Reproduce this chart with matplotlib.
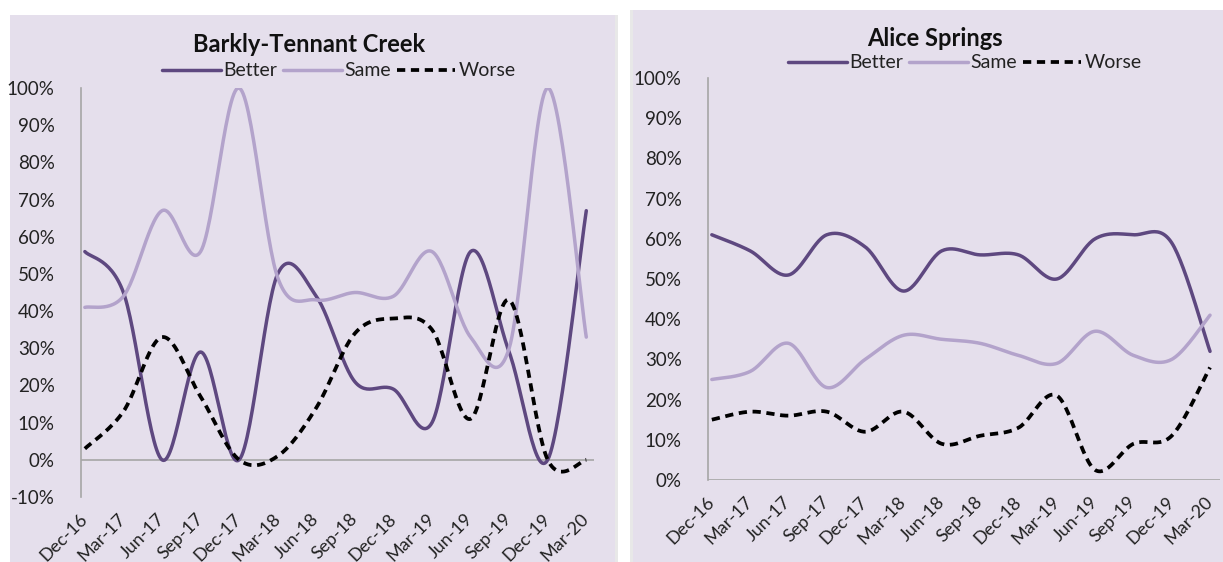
import numpy as np
import matplotlib
matplotlib.use("Agg")
import matplotlib.pyplot as plt
from matplotlib.patches import Rectangle
from matplotlib.ticker import FuncFormatter

plt.rcParams["font.family"] = ["Lato", "DejaVu Sans"]

dates = ["Dec-16", "Mar-17", "Jun-17", "Sep-17", "Dec-17", "Mar-18", "Jun-18",
         "Sep-18", "Dec-18", "Mar-19", "Jun-19", "Sep-19", "Dec-19", "Mar-20"]

# Barkly-Tennant Creek (%)
barkly_better = [56, 45, 0, 29, 0, 50, 44, 21, 19, 10, 56, 29, 0, 67]
barkly_same = [41, 44, 67, 56, 100, 49, 43, 45, 44, 56, 33, 30, 100, 33]
barkly_worse = [3, 13, 33, 17, 0, 1, 14, 34, 38, 35, 11, 43, 0, 0]

# Alice Springs (%)
alice_better = [61, 57, 51, 61, 58, 47, 57, 56, 56, 50, 60, 61, 59, 32]
alice_same = [25, 27, 34, 23, 30, 36, 35, 34, 31, 29, 37, 31, 30, 41]
alice_worse = [15, 17, 16, 17, 12, 17, 9, 11, 13, 21, 2.5, 9, 11, 28]

BG = "#E5DFEC"
C_BETTER = "#5E4880"
C_SAME = "#B3A3CB"
C_WORSE = "#000000"


def smooth(y, n=30, t=0.5):
    # Excel-style smoothed line (Catmull-Rom through each point)
    x = np.arange(len(y), dtype=float)
    y = np.asarray(y, dtype=float)
    xs, ys = [], []
    for i in range(len(y) - 1):
        p0 = np.array([x[max(i - 1, 0)], y[max(i - 1, 0)]])
        p1 = np.array([x[i], y[i]])
        p2 = np.array([x[i + 1], y[i + 1]])
        p3 = np.array([x[min(i + 2, len(y) - 1)], y[min(i + 2, len(y) - 1)]])
        c1 = p1 + (p2 - p0) * t / 3
        c2 = p2 - (p3 - p1) * t / 3
        s = np.linspace(0, 1, n)[:, None]
        b = ((1 - s) ** 3) * p1 + 3 * ((1 - s) ** 2) * s * c1 + 3 * (1 - s) * s ** 2 * c2 + s ** 3 * p2
        xs.append(b[:, 0])
        ys.append(b[:, 1])
    return np.concatenate(xs), np.concatenate(ys)


W, H = 1223, 562
fig = plt.figure(figsize=(W / 100, H / 100), dpi=100)

# panel backgrounds
fig.patches.append(Rectangle((10 / W, 0), 605 / W, (H - 15) / H, transform=fig.transFigure,
                             facecolor=BG, edgecolor="none", zorder=-10))
fig.patches.append(Rectangle((615 / W, 0), 3 / W, (H - 15) / H, transform=fig.transFigure,
                             facecolor="#E8E8E8", edgecolor="none", zorder=-10))
fig.patches.append(Rectangle((630 / W, 0), 3 / W, (H - 10) / H, transform=fig.transFigure,
                             facecolor="#E8E8E8", edgecolor="none", zorder=-10))
fig.patches.append(Rectangle((633 / W, 0), (W - 633) / W, (H - 10) / H, transform=fig.transFigure,
                             facecolor=BG, edgecolor="none", zorder=-10))


def panel(rect, better, same, worse, title, ymin, xlim, title_xy, leg_xy):
    ax = fig.add_axes(rect)
    ax.patch.set_alpha(0)
    handles = []
    for name, vals, col, ls in [("Better", better, C_BETTER, "-"),
                                ("Same", same, C_SAME, "-"),
                                ("Worse", worse, C_WORSE, "--")]:
        sx, sy = smooth(vals)
        line, = ax.plot(sx, np.array(sy) / 100, color=col, lw=2.5, ls=ls, label=name,
                        solid_capstyle="round")
        if ls == "--":
            line.set_linewidth(2.7)
            line.set_dashes((2.2, 1.5))
        handles.append(line)
    ax.set_xlim(*xlim)
    ax.set_ylim(ymin / 100, 1.0)
    ax.set_yticks(np.arange(ymin, 101, 10) / 100)
    ax.yaxis.set_major_formatter(FuncFormatter(lambda v, p: f"{v * 100:.0f}%"))
    ax.set_xticks(range(len(dates)))
    ax.set_xticklabels(dates, rotation=45, ha="right", va="center", rotation_mode="anchor")
    ax.tick_params(axis="y", length=0, pad=19, labelsize=13.5, colors="#222222")
    ax.tick_params(axis="x", length=0, pad=14, labelsize=13, colors="#222222")
    for s in ["top", "right", "bottom"]:
        ax.spines[s].set_visible(False)
    ax.spines["left"].set_color("#A6A6A6")
    ax.spines["left"].set_linewidth(1.2)
    ax.axhline(0, color="#A6A6A6", lw=1.2, zorder=0)
    fig.text(title_xy[0] / W, 1 - title_xy[1] / H, title, ha="center", va="center",
             fontsize=17, fontweight="bold", color="#111111")
    fig.legend(handles=handles, loc="center", bbox_to_anchor=(leg_xy[0] / W, 1 - leg_xy[1] / H),
               ncol=3, frameon=False, fontsize=14, handlelength=3.0, handletextpad=0.15,
               columnspacing=0.3, borderpad=0, labelcolor="#222222")
    return ax


panel([81 / W, 1 - 497 / H, (594 - 81) / W, (497 - 88) / H],
      barkly_better, barkly_same, barkly_worse, "Barkly-Tennant Creek", -10,
      (-0.1, 13.2), (309, 45), (339, 71))
panel([708 / W, 1 - 480 / H, (1220 - 708) / W, (480 - 78) / H],
      alice_better, alice_same, alice_worse, "Alice Springs", 0,
      (-0.1, 13.26), (935, 38), (965, 63))

fig.savefig("out.png", dpi=100)
